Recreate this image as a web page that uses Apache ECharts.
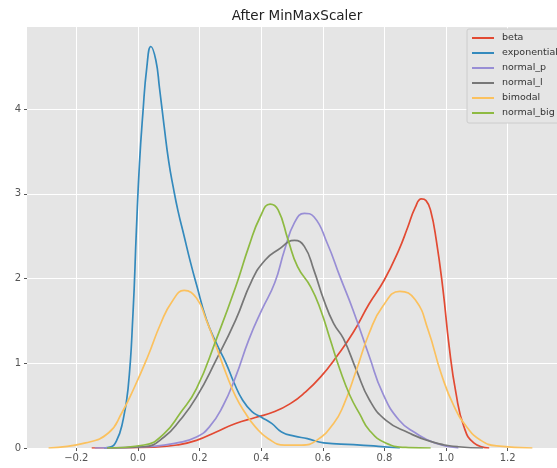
<!DOCTYPE html>
<html>
<head>
<meta charset="utf-8">
<script src="https://cdn.jsdelivr.net/npm/echarts@6/dist/echarts.min.js"></script>
<style>html,body{margin:0;padding:0;background:#fff;}#c{width:557px;height:468px;}</style>
</head>
<body>
<div id="c"></div>
<script>
const titleText = 'After MinMaxScaler';
const seriesNames = ['beta', 'exponential', 'normal_p', 'normal_l', 'bimodal', 'normal_big'];
const xTicks = [-0.2, 0, 0.2, 0.4, 0.6, 0.8, 1.0, 1.2];
const xTickLabels = ['\u22120.2', '0.0', '0.2', '0.4', '0.6', '0.8', '1.0', '1.2'];
const yTicks = [0, 1, 2, 3, 4];
const yTickLabels = ['0', '1', '2', '3', '4'];

const beta = [[-0.15,0],[-0.05,0.003],[0.05,0.01],[0.127,0.035],[0.19,0.09],[0.254,0.19],[0.317,0.29],[0.381,0.36],[0.444,0.43],[0.497,0.53],[0.54,0.65],[0.593,0.84],[0.645,1.08],[0.698,1.36],[0.75,1.7],[0.799,1.98],[0.847,2.34],[0.875,2.6],[0.9,2.84],[0.92,2.94],[0.935,2.92],[0.95,2.8],[0.968,2.46],[0.99,1.87],[1.01,1.2],[1.032,0.65],[1.058,0.25],[1.09,0.06],[1.14,0]];
const exponential = [[-0.11,0],[-0.09,0.01],[-0.07,0.08],[-0.05,0.3],[-0.032,0.7],[-0.016,1.59],[-0.005,2.57],[0.005,3.36],[0.016,3.95],[0.029,4.5],[0.042,4.74],[0.058,4.58],[0.07,4.25],[0.085,3.8],[0.1,3.38],[0.115,3.07],[0.13,2.8],[0.15,2.5],[0.17,2.2],[0.19,1.93],[0.222,1.52],[0.254,1.24],[0.286,1.0],[0.312,0.77],[0.339,0.57],[0.37,0.43],[0.402,0.36],[0.434,0.29],[0.466,0.19],[0.508,0.14],[0.55,0.11],[0.603,0.06],[0.7,0.04],[0.78,0.02],[0.85,0]];
const normal_p = [[-0.14,0],[0.05,0.02],[0.127,0.06],[0.19,0.13],[0.232,0.25],[0.275,0.49],[0.317,0.84],[0.36,1.28],[0.402,1.63],[0.444,1.95],[0.476,2.34],[0.508,2.66],[0.54,2.77],[0.571,2.73],[0.614,2.42],[0.656,2.02],[0.698,1.63],[0.751,1.08],[0.794,0.65],[0.847,0.33],[0.9,0.18],[0.963,0.06],[1.04,0]];
const normal_l = [[-0.1,0],[0.02,0.015],[0.085,0.13],[0.137,0.33],[0.19,0.6],[0.254,1.04],[0.317,1.51],[0.37,1.98],[0.413,2.22],[0.455,2.34],[0.508,2.45],[0.54,2.38],[0.571,2.1],[0.603,1.75],[0.635,1.47],[0.667,1.29],[0.709,0.92],[0.751,0.57],[0.804,0.33],[0.878,0.18],[0.952,0.075],[1.04,0.015],[1.12,0]];
const bimodal = [[-0.29,0],[-0.17,0.06],[-0.095,0.18],[-0.053,0.41],[-0.011,0.72],[0.032,1.08],[0.074,1.47],[0.111,1.73],[0.15,1.86],[0.19,1.77],[0.222,1.51],[0.254,1.2],[0.286,0.88],[0.317,0.61],[0.349,0.41],[0.381,0.25],[0.423,0.11],[0.476,0.035],[0.53,0.035],[0.58,0.09],[0.635,0.29],[0.667,0.5],[0.709,0.92],[0.751,1.36],[0.794,1.67],[0.85,1.85],[0.9,1.75],[0.942,1.39],[0.984,0.88],[1.026,0.49],[1.069,0.24],[1.111,0.095],[1.164,0.024],[1.28,0]];
const normal_big = [[-0.1,0],[0.02,0.035],[0.085,0.17],[0.137,0.41],[0.19,0.7],[0.254,1.28],[0.317,1.9],[0.36,2.38],[0.397,2.73],[0.429,2.88],[0.455,2.81],[0.487,2.46],[0.518,2.14],[0.561,1.9],[0.593,1.63],[0.624,1.28],[0.656,0.92],[0.688,0.62],[0.72,0.4],[0.751,0.21],[0.804,0.06],[0.878,0.005],[0.95,0]];

const seriesData = [beta, exponential, normal_p, normal_l, bimodal, normal_big];
const colors = ['#E24A33', '#348ABD', '#988ED5', '#777777', '#FBC15E', '#8EBA42'];

const chart = echarts.init(document.getElementById('c'), null, {renderer: 'canvas'});
const font = 'DejaVu Sans';
chart.setOption({
  animation: false,
  color: colors,
  graphic: [{
    type: 'text', x: 297, y: 9, z: 10,
    style: {text: titleText, textAlign: 'center', textVerticalAlign: 'top', font: '13.5px "DejaVu Sans"', fill: '#222'}
  }],
  legend: {
    orient: 'vertical', left: 467, top: 29,
    data: seriesNames,
    backgroundColor: '#E5E5E5', borderColor: '#CCCCCC', borderWidth: 1, borderRadius: 2,
    padding: [3, 20, 4, 5],
    itemWidth: 22, itemHeight: 2, itemGap: 3,
    icon: 'rect',
    textStyle: {fontFamily: font, fontSize: 9.5, color: '#333', lineHeight: 12, padding: [0, 0, 0, 3]}
  },
  grid: {left: 27, top: 27, right: -12, bottom: 20, show: true, backgroundColor: '#E5E5E5', borderWidth: 0, containLabel: false},
  xAxis: {
    type: 'value', min: -0.36, max: 1.36,
    axisLine: {show: false, onZero: false},
    axisTick: {show: true, length: 3, lineStyle: {color: '#555'}, customValues: xTicks},
    axisLabel: {customValues: xTicks, color: '#555', fontFamily: font, fontSize: 10, margin: 5,
      formatter: v => { const i = xTicks.findIndex(t => Math.abs(t - v) < 1e-6); return i >= 0 ? xTickLabels[i] : ''; }},
    splitLine: {show: true, lineStyle: {color: '#FFFFFF', width: 1}}
  },
  yAxis: {
    type: 'value', min: 0, max: 4.97,
    axisLine: {show: false, onZero: false},
    axisTick: {show: true, length: 3, lineStyle: {color: '#555'}, customValues: yTicks},
    axisLabel: {customValues: yTicks, color: '#555', fontFamily: font, fontSize: 10, margin: 6,
      formatter: v => { const i = yTicks.findIndex(t => Math.abs(t - v) < 1e-6); return i >= 0 ? yTickLabels[i] : ''; }},
    splitLine: {show: true, lineStyle: {color: '#FFFFFF', width: 1}}
  },
  series: seriesNames.map((n, i) => ({
    name: n, type: 'line', data: seriesData[i], showSymbol: false, symbol: 'none',
    smooth: 0.5, lineStyle: {width: 1.7, color: colors[i]}, itemStyle: {color: colors[i]}, clip: true
  }))
});
</script>
</body>
</html>
